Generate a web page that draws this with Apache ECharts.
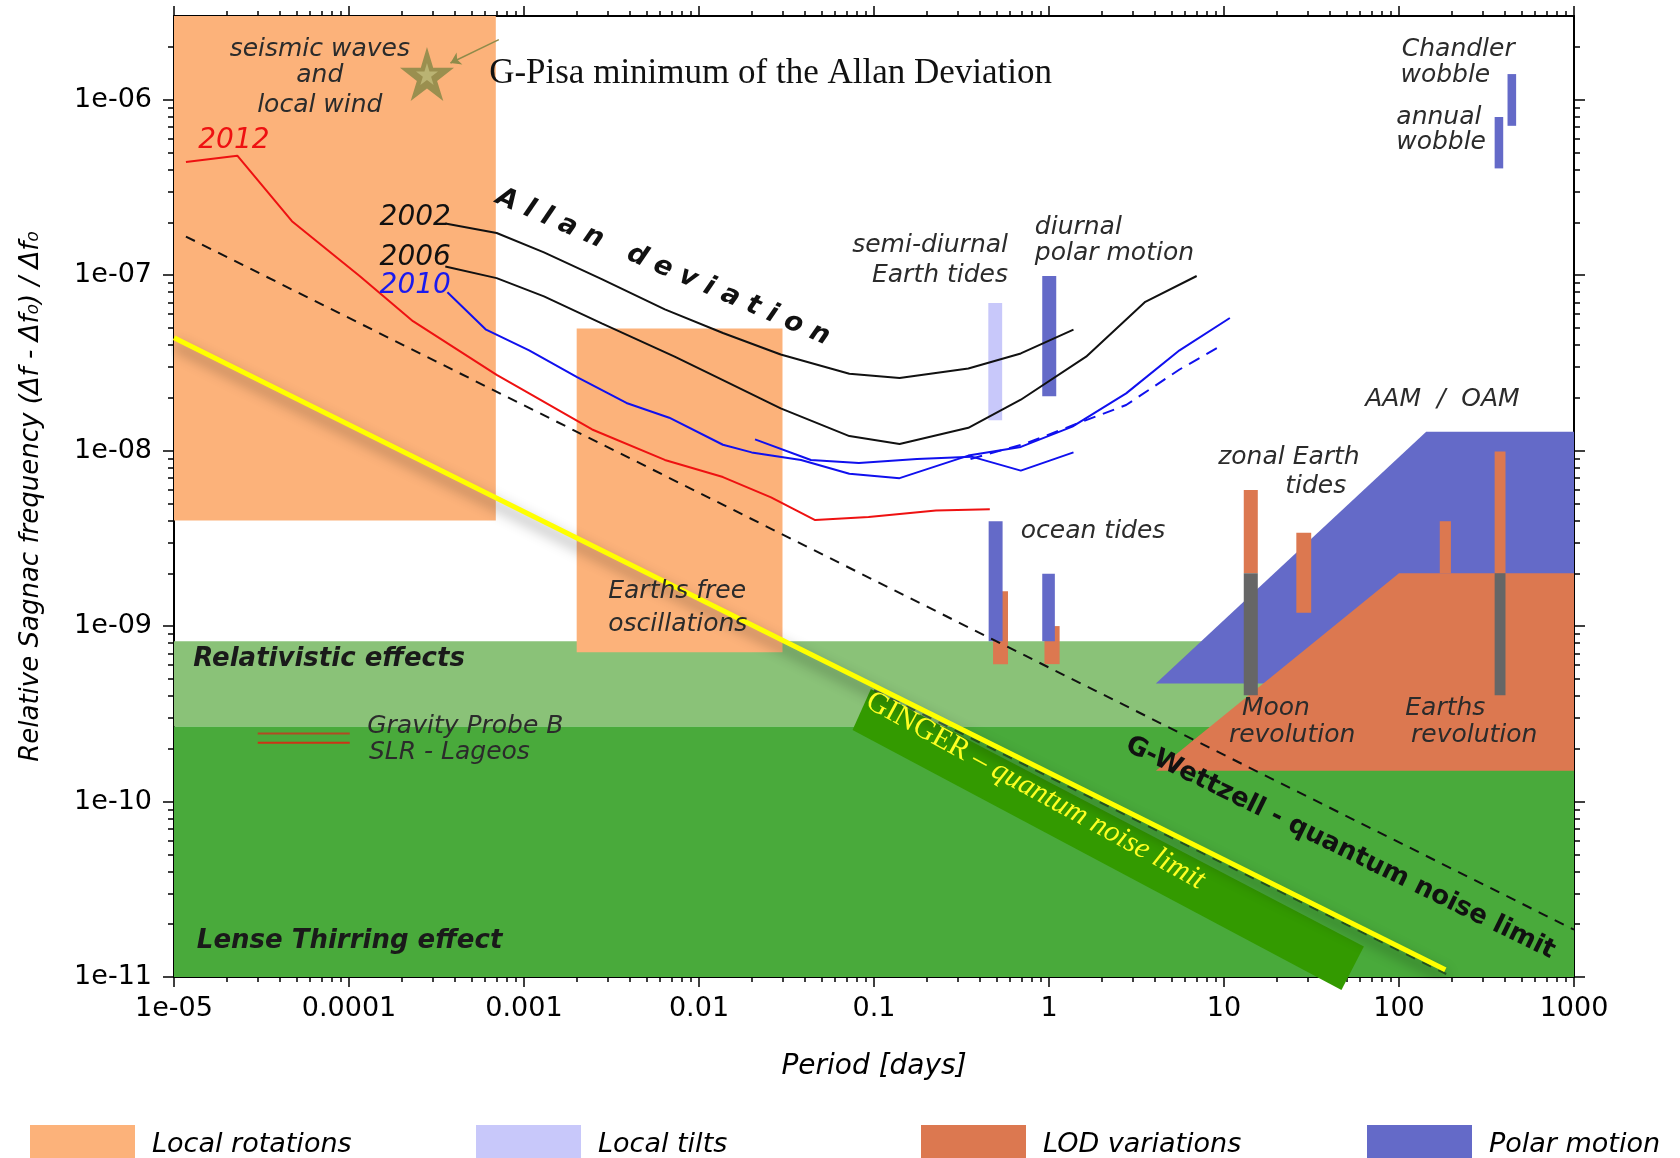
<!DOCTYPE html>
<html><head><meta charset="utf-8">
<script src="https://cdn.jsdelivr.net/npm/echarts@6/dist/echarts.min.js"></script>
<style>html,body{margin:0;padding:0;background:#fff}#c{width:1680px;height:1158px}</style>
</head><body><div id="c"></div>
<script>
// ---------- axes ----------
const X_MIN = 1e-5, X_MAX = 1000, Y_MIN = 1e-11, Y_MAX = 3.0e-6;
const xMajorTicks = [1e-5, 1e-4, 1e-3, 1e-2, 1e-1, 1, 10, 100, 1000];
const xTickLabels = ['1e-05', '0.0001', '0.001', '0.01', '0.1', '1', '10', '100', '1000'];
const yMajorTicks = [1e-11, 1e-10, 1e-9, 1e-8, 1e-7, 1e-6];
const yTickLabels = ['1e-11', '1e-10', '1e-09', '1e-08', '1e-07', '1e-06'];
const mantissas = [2, 3, 4, 5, 6, 7, 8, 9];
const xMinorTicks = [], yMinorTicks = [];
for (let e = -5; e <= 2; e++) mantissas.forEach(m => xMinorTicks.push(m * Math.pow(10, e)));
for (let e = -11; e <= -6; e++) mantissas.forEach(m => { const v = m * Math.pow(10, e); if (v < 2.5e-6) yMinorTicks.push(v); });

// ---------- Allan deviation curves [period (days), relative Sagnac frequency] ----------
const allan2002 = [[3.55e-4,1.97e-7],[6.98e-4,1.74e-7],[1.30e-3,1.35e-7],[2.78e-3,9.5e-8],[6.38e-3,6.38e-8],[0.0137,4.68e-8],[0.0293,3.53e-8],[0.0723,2.74e-8],[0.140,2.59e-8],[0.346,2.94e-8],[0.690,3.58e-8],[1.38,4.89e-8]];
const allan2006 = [[3.55e-4,1.12e-7],[6.98e-4,9.62e-8],[1.30e-3,7.57e-8],[2.78e-3,5.31e-8],[7.26e-3,3.43e-8],[0.0137,2.52e-8],[0.0293,1.74e-8],[0.0723,1.21e-8],[0.140,1.09e-8],[0.346,1.35e-8],[0.690,1.95e-8],[1.63,3.43e-8],[3.55,7.05e-8],[6.98,9.89e-8]];
const allan2010 = [[3.65e-4,8.0e-8],[6.07e-4,4.89e-8],[1.07e-3,3.73e-8],[2.01e-3,2.62e-8],[3.85e-3,1.87e-8],[6.76e-3,1.54e-8],[0.0137,1.08e-8],[0.0200,9.77e-9],[0.0383,8.85e-9],[0.0723,7.38e-9],[0.140,6.97e-9],[0.346,9.37e-9],[0.690,1.05e-8],[1.36,1.37e-8],[2.76,2.12e-8],[5.57,3.73e-8],[10.8,5.70e-8]];
const allan2010b = [[0.0209,1.16e-8],[0.0436,8.85e-9],[0.0820,8.49e-9],[0.176,8.97e-9],[0.361,9.24e-9],[0.690,7.69e-9],[1.38,9.77e-9]];
const allan2010dashed = [[0.356,8.97e-9],[0.722,1.09e-8],[1.46,1.43e-8],[2.76,1.82e-8],[5.57,2.90e-8],[9.8,4.01e-8]];
const allan2012 = [[1.17e-5,4.41e-7],[2.30e-5,4.80e-7],[4.72e-5,2.03e-7],[1.15e-4,9.89e-8],[2.32e-4,5.47e-8],[6.98e-4,2.70e-8],[1.07e-3,2.12e-8],[2.45e-3,1.32e-8],[6.38e-3,8.85e-9],[0.0137,7.07e-9],[0.0258,5.41e-9],[0.0461,4.02e-9],[0.0931,4.19e-9],[0.226,4.56e-9],[0.459,4.63e-9]];

// ---------- quantum noise limits ----------
const wettzellLimit = [[1.17e-5,1.66e-7],[1000,1.86e-11]];
const gingerLimit = [[1e-5,4.40e-8],[184,1.10e-11]];
const gingerDashed = [[0.1,4.32e-10],[186,1.04e-11]];
const gingerBand = [[0.0960,4.38e-10],[63.0,1.49e-11],[46.9,8.44e-12],[0.0754,2.56e-10]];
const gravityProbeB = [[3.01e-5,2.44e-10],[1.01e-4,2.44e-10]];
const slrLageos = [[3.01e-5,2.16e-10],[1.01e-4,2.16e-10]];
const gPisaStar = [[2.79e-4,1.40e-6]];
const gPisaArrow = [[7.18e-4,2.20e-6],[3.80e-4,1.62e-6]];

// ---------- regions [xFrom, xTo, yFrom, yTo] ----------
const relativisticBand = [[1e-5,1000,2.68e-10,8.2e-10]];
const lenseThirringBand = [[1e-5,1000,1e-11,2.68e-10]];
const localRotations = [[1e-5,6.9e-4,4.0e-9,3.0e-6],[2.0e-3,0.030,7.1e-10,4.96e-8]];
const localTilts = [[0.45,0.54,1.49e-8,6.95e-8]];
const polarBars = [[0.452,0.543,8.2e-10,3.96e-9],[0.915,1.08,8.2e-10,1.99e-9],[0.915,1.10,2.04e-8,9.9e-8],[417,467,7.1e-7,1.40e-6],[352,394,4.06e-7,7.97e-7]];
const lodOceanBars = [[0.479,0.583,6.07e-10,1.58e-9],[0.942,1.15,6.07e-10,1.0e-9]];
const lodBars = [[12.97,15.6,2.0e-9,5.97e-9],[25.9,31.5,1.19e-9,3.40e-9],[171,198,2.0e-9,3.96e-9],[352,406,2.0e-9,9.9e-9]];
const grayBars = [[12.97,15.6,4.03e-10,2.0e-9],[352,406,4.03e-10,2.0e-9]];
const aamOamPolygon = [[4.08,4.71e-10],[143,1.28e-8],[1000,1.28e-8],[1000,4.71e-10]];
const lodPolygon = [[4.08,1.5e-10],[100,2.0e-9],[1000,2.0e-9],[1000,1.5e-10]];

const legendNames = ['Local rotations', 'Local tilts', 'LOD variations', 'Polar motion'];

// ---------- annotations (anchor in data coords) ----------
const annotations = [
  ['seismic waves', 6.81e-5, 1.94e-6, 'center', 'note'],
  ['and', 6.81e-5, 1.38e-6, 'center', 'note'],
  ['local wind', 6.81e-5, 9.31e-7, 'center', 'note'],
  ['2012', 2.20e-5, 5.85e-7, 'center', 'yearRed'],
  ['2002', 2.39e-4, 2.12e-7, 'center', 'year'],
  ['2006', 2.39e-4, 1.26e-7, 'center', 'year'],
  ['2010', 2.39e-4, 8.71e-8, 'center', 'yearBlue'],
  ['A l l a n   d e v i a t i o n', 6.21e-3, 1.11e-7, 'center', 'allan'],
  ['semi-diurnal', 0.583, 1.47e-7, 'right', 'note'],
  ['Earth tides', 0.583, 1.0e-7, 'right', 'note'],
  ['diurnal', 0.830, 1.87e-7, 'left', 'note'],
  ['polar motion', 0.830, 1.33e-7, 'left', 'note'],
  ['Chandler', 218, 1.94e-6, 'center', 'note'],
  ['wobble', 184, 1.38e-6, 'center', 'note'],
  ['annual', 169, 7.97e-7, 'center', 'note'],
  ['wobble', 174, 5.69e-7, 'center', 'note'],
  ['AAM  /  OAM', 177, 1.95e-8, 'center', 'note'],
  ['zonal Earth', 23.5, 9.12e-9, 'center', 'note'],
  ['tides', 33.4, 6.22e-9, 'center', 'note'],
  ['ocean tides', 0.690, 3.44e-9, 'left', 'note'],
  ['Earths free', 3.03e-3, 1.58e-9, 'left', 'note'],
  ['oscillations', 3.03e-3, 1.02e-9, 'left', 'note'],
  ['Relativistic effects', 1.29e-5, 6.43e-10, 'left', 'effect'],
  ['Gravity Probe B', 1.27e-4, 2.68e-10, 'left', 'small'],
  ['SLR - Lageos', 1.30e-4, 1.91e-10, 'left', 'small'],
  ['Lense Thirring effect', 1.35e-5, 1.59e-11, 'left', 'effect'],
  ['Moon', 19.8, 3.40e-10, 'center', 'note'],
  ['revolution', 24.5, 2.39e-10, 'center', 'note'],
  ['Earths', 184, 3.40e-10, 'center', 'note'],
  ['revolution', 269, 2.39e-10, 'center', 'note'],
  ['G-Wettzell - quantum noise limit', 46.2, 5.43e-11, 'center', 'wettzell'],
  ['{a|GINGER – }{b|quantum noise limit}', 0.835, 1.15e-10, 'center', 'ginger'],
  ['G-Pisa minimum of the Allan Deviation', 6.32e-4, 1.40e-6, 'left', 'pisa']
];

// ---------- styles ----------
const SANS = '"DejaVu Sans", Verdana, sans-serif';
const SERIF = '"Liberation Serif", "DejaVu Serif", serif';
const textStyles = {
  note: {font: 'italic 25px ' + SANS, fill: '#2b2b2b'},
  small: {font: 'italic 25px ' + SANS, fill: '#2b2b2b'},
  effect: {font: 'italic bold 26px ' + SANS, fill: '#1a1a1a'},
  year: {font: 'italic 28px ' + SANS, fill: '#111'},
  yearRed: {font: 'italic 28px ' + SANS, fill: '#ee1111'},
  yearBlue: {font: 'italic 28px ' + SANS, fill: '#1a1aee'},
  allan: {font: 'italic bold 27px ' + SANS, fill: '#111', rot: -23.3},
  wettzell: {font: 'bold 26px ' + SANS, fill: '#111', rot: -26.1},
  ginger: {font: '30px ' + SERIF, fill: '#ffff22', rot: -28.7,
    rich: {a: {fontFamily: 'Liberation Serif', fontSize: 30, color: '#ffff22'},
           b: {fontFamily: 'Liberation Serif', fontSize: 30, fontStyle: 'italic', color: '#ffff22'}}},
  pisa: {font: '35px ' + SERIF, fill: '#111'}
};
const COL = {
  orange: '#fcb27a', tilt: '#c8c8fa', lod: '#dc7850', polar: '#646ac8', gray: '#666666',
  green1: '#8ac278', green2: '#49aa3b', ginger: '#339a00'
};

function rectRender(color) {
  return function (params, api) {
    const a = api.coord([api.value(0), api.value(3)]);
    const b = api.coord([api.value(1), api.value(2)]);
    return {type: 'rect', shape: {x: a[0], y: a[1], width: b[0] - a[0], height: b[1] - a[1]}, style: {fill: color}};
  };
}
function polyRender(points, color) {
  return function (params, api) {
    return {type: 'polygon', shape: {points: points.map(p => api.coord(p))}, style: {fill: color}};
  };
}
function rectSeries(name, data, color, z) {
  return {type: 'custom', name: name, data: data, renderItem: rectRender(color), itemStyle: {color: color},
          encode: {x: [0, 1], y: [2, 3]}, z: z, silent: true, clip: false};
}
function polySeries(name, points, color, z) {
  return {type: 'custom', name: name, data: [points[0]], renderItem: polyRender(points, color),
          itemStyle: {color: color}, z: z, silent: true, clip: false};
}
function lineSeries(name, data, color, width, dash, z, extra) {
  return Object.assign({type: 'line', name: name, data: data, symbol: 'none', showSymbol: false, silent: true,
          lineStyle: {color: color, width: width, type: dash || 'solid'}, z: z}, extra || {});
}

const fmtX = v => xTickLabels[Math.round(Math.log10(v)) + 5];
const fmtY = v => yTickLabels[Math.round(Math.log10(v)) + 11];

function xAxisDef(pos, major) {
  return {
    type: 'log', logBase: 10, min: X_MIN, max: X_MAX, position: pos,
    name: (pos === 'bottom' && major) ? 'Period [days]' : '', nameLocation: 'middle', nameGap: 76,
    nameTextStyle: {fontFamily: SANS, fontSize: 28, fontStyle: 'italic', color: '#000'},
    axisLine: {show: major, onZero: false, lineStyle: {color: '#000', width: 2}},
    axisTick: {show: true, inside: false, length: major ? 10 : 5, customValues: major ? xMajorTicks : xMinorTicks,
               lineStyle: {color: '#000', width: 1.5}},
    axisLabel: {show: pos === 'bottom' && major, customValues: xMajorTicks, formatter: fmtX, margin: 18,
                fontFamily: SANS, fontSize: 27, color: '#000'},
    splitLine: {show: false}, minorTick: {show: false}
  };
}
function yAxisDef(pos, major) {
  return {
    type: 'log', logBase: 10, min: Y_MIN, max: Y_MAX, position: pos,
    name: (pos === 'left' && major) ? 'Relative Sagnac frequency (Δf - Δf₀) / Δf₀' : '',
    nameLocation: 'middle', nameGap: 130, nameRotate: 90,
    nameTextStyle: {fontFamily: SANS, fontSize: 26, fontStyle: 'italic', color: '#000'},
    axisLine: {show: major, onZero: false, lineStyle: {color: '#000', width: 2}},
    axisTick: {show: true, inside: false, length: major ? 11 : 6, customValues: major ? yMajorTicks : yMinorTicks,
               lineStyle: {color: '#000', width: 1.5}},
    axisLabel: {show: pos === 'left' && major, customValues: yMajorTicks, formatter: fmtY, margin: 22,
                fontFamily: SANS, fontSize: 27, color: '#000'},
    splitLine: {show: false}, minorTick: {show: false}
  };
}

const starPath = 'path://M50,0 L61,35 L98,35 L68,57 L79,91 L50,70 L21,91 L32,57 L2,35 L39,35 Z';
const legendLeft = [25, 471, 916, 1362];

const option = {
  animation: false,
  backgroundColor: '#ffffff',
  grid: {left: 174, right: 106, top: 16, bottom: 181, containLabel: false},
  xAxis: [xAxisDef('bottom', true), xAxisDef('bottom', false), xAxisDef('top', true), xAxisDef('top', false)],
  yAxis: [yAxisDef('left', true), yAxisDef('left', false), yAxisDef('right', true), yAxisDef('right', false)],
  legend: legendNames.map((n, i) => ({
    data: [n], left: legendLeft[i], top: 1120, icon: 'rect', itemWidth: 105, itemHeight: 40,
    selectedMode: false, textStyle: {fontFamily: SANS, fontSize: 27, fontStyle: 'italic', color: '#000', padding: [0, 0, 0, 12]}
  })),
  series: [
    rectSeries('Relativistic', relativisticBand, COL.green1, 1),
    rectSeries('LenseThirring', lenseThirringBand, COL.green2, 1),
    rectSeries('Local rotations', localRotations, COL.orange, 2),
    polySeries('Polar motion', aamOamPolygon, COL.polar, 3),
    polySeries('LOD variations', lodPolygon, COL.lod, 4),
    rectSeries('LOD ocean', lodOceanBars, COL.lod, 5),
    rectSeries('Polar bars', polarBars, COL.polar, 6),
    rectSeries('Local tilts', localTilts, COL.tilt, 6),
    rectSeries('LOD bars', lodBars, COL.lod, 7),
    rectSeries('Gray bars', grayBars, COL.gray, 8),
    polySeries('GINGER band', gingerBand, COL.ginger, 9),
    lineSeries('G-Wettzell', wettzellLimit, '#111', 2, [10, 8], 10),
    lineSeries('2002', allan2002, '#111', 2, null, 11),
    lineSeries('2006', allan2006, '#111', 2, null, 11),
    lineSeries('2010', allan2010, '#1010ee', 2, null, 11),
    lineSeries('2010b', allan2010b, '#1010ee', 2, null, 11),
    lineSeries('2010 dashed', allan2010dashed, '#1010ee', 2, [12, 8], 11),
    lineSeries('2012', allan2012, '#ee1111', 2, null, 11),
    lineSeries('Gravity Probe B', gravityProbeB, '#b24a22', 2, null, 11),
    lineSeries('SLR', slrLageos, '#cc3316', 2, null, 11),
    lineSeries('GINGER dashed', gingerDashed, 'rgba(20,40,20,0.6)', 2, [10, 8], 11),
    lineSeries('GINGER', gingerLimit, '#ffff00', 5, null, 12,
      {lineStyle: {color: '#ffff00', width: 5, shadowColor: 'rgba(0,0,0,0.45)', shadowBlur: 14, shadowOffsetY: 7}}),
    {type: 'scatter', name: 'G-Pisa', data: gPisaStar, symbol: starPath, symbolSize: 54, silent: true,
     itemStyle: {color: '#8f8b4a', opacity: 0.9}, z: 13},
    {type: 'scatter', name: 'G-Pisa inner', data: gPisaStar, symbol: starPath, symbolSize: 22, silent: true,
     itemStyle: {color: '#c2bc7c'}, z: 14},
    {type: 'lines', name: 'arrow', coordinateSystem: 'cartesian2d', silent: true, z: 13,
     symbol: ['none', 'arrow'], symbolSize: 10,
     lineStyle: {color: '#8f8b4a', width: 1.5, opacity: 1},
     data: [{coords: gPisaArrow}]}
  ]
};

const chart = echarts.init(document.getElementById('c'), null, {renderer: 'canvas'});
chart.setOption(option);
const graphics = annotations.map(a => {
  const st = textStyles[a[4]];
  const p = chart.convertToPixel({xAxisIndex: 0, yAxisIndex: 0}, [a[1], a[2]]);
  const style = {text: a[0], font: st.font, fill: st.fill, align: a[3], verticalAlign: 'middle'};
  if (st.rich) style.rich = st.rich;
  return {type: 'text', x: p[0], y: p[1], rotation: (st.rot || 0) * Math.PI / 180, style: style, z: 100, silent: true};
});
chart.setOption({graphic: graphics});
</script>
</body></html>
